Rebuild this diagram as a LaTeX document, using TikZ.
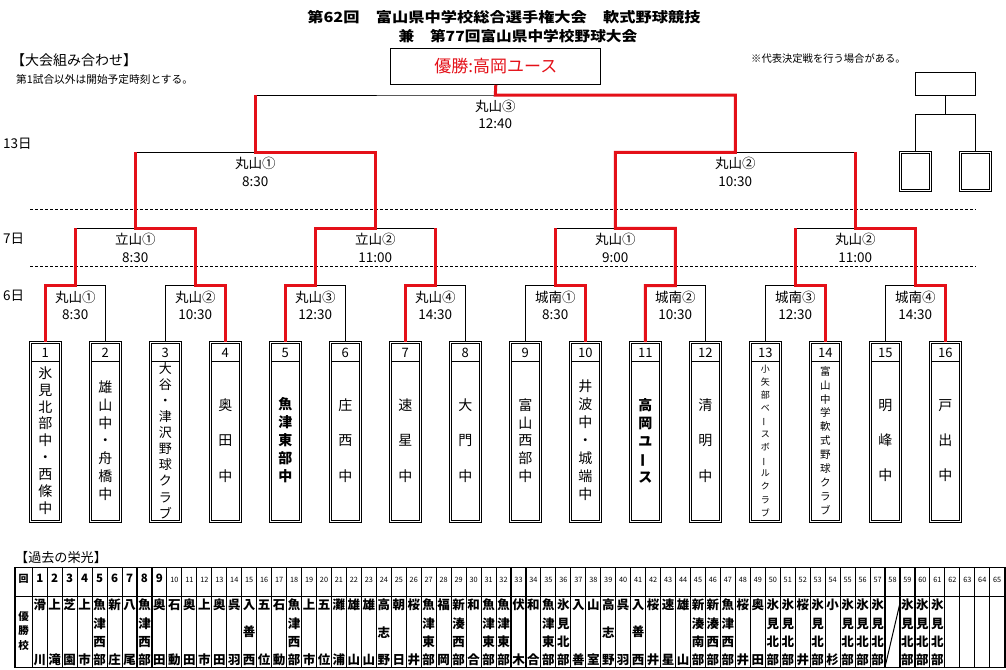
\documentclass[tikz,border=0pt]{standalone}
\usepackage{fontspec}
\setmainfont{Noto Sans CJK JP}
\usepackage{tikz}
\usetikzlibrary{positioning,calc}

\definecolor{winred}{RGB}{228,16,24}
\newcommand{\chouon}{\rotatebox[origin=c]{90}{ー}}

\tikzset{
	brk/.style={black, line width=1pt},
	winpath/.style={winred, line width=3pt, line join=miter},
	dayline/.style={black, line width=0.8pt, dash pattern=on 3pt off 2pt},
	teambox/.style={draw, double, double distance=1.3pt, line width=0.9pt,
		minimum width=30.2pt, minimum height=179.3pt, inner sep=0pt, outer sep=0pt},
	smallbox/.style={draw, double, double distance=1.3pt, line width=0.9pt,
		minimum width=30.3pt, minimum height=38.3pt, inner sep=0pt, outer sep=0pt},
	numtxt/.style={inner sep=0pt, font=\fontsize{13}{13}\selectfont},
	nametxt/.style={inner sep=0pt, align=center},
	mlabel/.style={inner sep=0pt, align=center, anchor=north, font=\fontsize{13.5}{17.3}\selectfont},
	tbl/.style={black, line width=1.1pt},
	cellname/.style={inner sep=0pt, align=center}
}

\begin{document}
\begin{tikzpicture}[
	x=1pt,y=-1pt,
	line cap=butt,line join=miter,
	font=\fontsize{13.5}{16}\selectfont
	]
	%----- parameters
	\def\boxY{431.85}
	\def\yA{285.7}
	\def\yB{228.3}
	\def\yC{152.3}
	\def\yD{95}
	\def\cX{32.3}
	\def\cW{14.96}
	
	\path[use as bounding box, fill=white] (0,0) rectangle (1006,669);
	
	%----- title and notes
	\node[font=\fontsize{14}{14}\selectfont\bfseries] (ttlA) at (504,16.7)
	{\scalebox{1.16}[1]{第62回　富山県中学校総合選手権大会　軟式野球競技}};
	\node[font=\fontsize{14}{14}\selectfont\bfseries] (ttlB) at (518,36.2)
	{\scalebox{1.12}[1]{兼　第77回富山県中学校野球大会}};
	\node[anchor=west, inner sep=0pt, font=\fontsize{14}{14}\selectfont] (hdA) at (11,60) {【大会組み合わせ】};
	\node[anchor=west, inner sep=0pt, font=\fontsize{10.7}{10.7}\selectfont] (hdB) at (16,79) {第1試合以外は開始予定時刻とする。};
	\node[anchor=west, inner sep=0pt, font=\fontsize{10.3}{10.3}\selectfont] (hdC) at (751,59) {※代表決定戦を行う場合がある。};
	
	%----- champion
	\node[draw, brk, minimum width=210pt, minimum height=36pt, inner sep=0pt,
	text=winred, font=\fontsize{17}{17}\selectfont] (champ) at (495.8,66.3) {優勝:高岡ユース};
	
	%----- days
	\node[anchor=west, inner sep=0pt] (dA) at (3,144) {13日};
	\node[anchor=west, inner sep=0pt] (dB) at (3,239) {7日};
	\node[anchor=west, inner sep=0pt] (dC) at (3,296) {6日};
	\draw[dayline] (30,209) -- (976,209);
	\draw[dayline] (30,266) -- (976,266);
	
	%----- team boxes
	\foreach \i/\fs/\bs/\wt/\nm in {
		1/14/16.9/\mdseries/氷\\見\\北\\部\\中\\・\\西\\條\\中,
		2/14/17.8/\mdseries/雄\\山\\中\\・\\舟\\橋\\中,
		3/13/16.1/\mdseries/大\\谷\\・\\津\\沢\\野\\球\\ク\\ラ\\ブ,
		4/14/35.3/\mdseries/奥\\田\\中,
		5/14/18/\bfseries/魚\\津\\東\\部\\中,
		6/14/35.3/\mdseries/庄\\西\\中,
		7/14/35.3/\mdseries/速\\星\\中,
		8/14/35.3/\mdseries/大\\門\\中,
		9/14/17.7/\mdseries/富\\山\\西\\部\\中,
		10/14/18/\mdseries/井\\波\\中\\・\\城\\端\\中,
		11/14/18/\bfseries/高\\岡\\ユ\\\chouon\\ス,
		12/14/35.3/\mdseries/清\\明\\中,
		13/9/13.1/\mdseries/小\\矢\\部\\ベ\\\chouon\\ス\\ボ\\\chouon\\ル\\ク\\ラ\\ブ,
		14/10.5/13.9/\mdseries/富\\山\\中\\学\\軟\\式\\野\\球\\ク\\ラ\\ブ,
		15/14/35.3/\mdseries/明\\峰\\中,
		16/14/35.3/\mdseries/戸\\出\\中}{
		\node[teambox] (t\i) at ({45.3+60*(\i-1)},\boxY) {};
		\draw[brk] ($(t\i.north west)+(1.15,19.5)$) -- ($(t\i.north east)+(-1.15,19.5)$);
		\node[numtxt] (n\i) at ($(t\i.north)+(0,10.3)$) {\i};
		\node[nametxt, font=\fontsize{\fs}{\bs}\selectfont\wt] (nm\i) at ($(t\i.north)+(0,98.3)$) {\nm};
	}
	
	%----- match points
	\foreach \j in {1,...,8}{
		\coordinate (r1-\j) at ({75.3+120*(\j-1)},\yA);
	}
	\foreach \j in {1,...,4}{
		\coordinate (r2-\j) at ({135.3+240*(\j-1)},\yB);
	}
	\coordinate (r3-1) at (255.3,\yC);
	\coordinate (r3-2) at (735.3,\yC);
	\coordinate (fin) at (495.3,\yD);
	
	%----- bracket lines
	\foreach \j in {1,...,8}{
		\pgfmathtruncatemacro\lt{2*\j-1}
		\pgfmathtruncatemacro\rt{2*\j}
		\draw[brk] (t\lt.north) |- (r1-\j) -| (t\rt.north);
	}
	\foreach \j in {1,...,4}{
		\pgfmathtruncatemacro\lt{2*\j-1}
		\pgfmathtruncatemacro\rt{2*\j}
		\draw[brk] (r1-\lt) |- (r2-\j) -| (r1-\rt);
	}
	\draw[brk] (r2-1) |- (r3-1) -| (r2-2);
	\draw[brk] (r2-3) |- (r3-2) -| (r2-4);
	\draw[brk] (r3-1) |- (fin) -| (r3-2);
	
	%----- winners
	\draw[winpath] (t1.north) |- (r1-1) -- (r1-1 |- r2-1);
	\draw[winpath] (t4.north) |- (r1-2) |- (r2-1) -- (r2-1 |- r3-1);
	\draw[winpath] (t5.north) |- (r1-3) |- (r2-2) |- (r3-1) -- (r3-1 |- fin);
	\draw[winpath] (t7.north) |- (r1-4) -- (r1-4 |- r2-2);
	\draw[winpath] (t10.north) |- (r1-5) -- (r1-5 |- r2-3);
	\draw[winpath] (t11.north) |- (r1-6) |- (r2-3) |- (r3-2) |- (fin) -- (champ.south);
	\draw[winpath] (t14.north) |- (r1-7) -- (r1-7 |- r2-4);
	\draw[winpath] (t16.north) |- (r1-8) |- (r2-4) -- (r2-4 |- r3-2);
	
	%----- match labels
	\foreach \j/\pl/\tm in {1/丸山①/8:30, 2/丸山②/10:30, 3/丸山③/12:30, 4/丸山④/14:30,
		5/城南①/8:30, 6/城南②/10:30, 7/城南③/12:30, 8/城南④/14:30}{
		\node[mlabel, below=5pt of r1-\j] (la-\j) {\pl\\\tm};
	}
	\foreach \j/\pl/\tm in {1/立山①/8:30, 2/立山②/11:00, 3/丸山①/9:00, 4/丸山②/11:00}{
		\node[mlabel, below=5pt of r2-\j] (lb-\j) {\pl\\\tm};
	}
	\node[mlabel, below=5pt of r3-1] (lc-1) {丸山①\\8:30};
	\node[mlabel, below=5pt of r3-2] (lc-2) {丸山②\\10:30};
	\node[mlabel, below=5pt of fin] (ld) {丸山③\\12:40};
	
	%----- extra bracket (top right)
	\node[draw, brk, minimum width=60pt, minimum height=23pt, inner sep=0pt] (pb) at (945,83.5) {};
	\node[smallbox] (pb1) at (915.3,171.3) {};
	\node[smallbox] (pb2) at (975.3,171.3) {};
	\draw[brk] (pb.south) -- ++(0,19) coordinate (pbj);
	\draw[brk] (pb1.north) |- (pbj) -| (pb2.north);
	
	%----- past winners table
	\node[anchor=west, inner sep=0pt, font=\fontsize{13.1}{13.1}\selectfont] (hdD) at (15,558) {【過去の栄光】};
	\draw[tbl] (15,567.3) rectangle (1005,667.7);
	\draw[tbl] (15,596.7) -- (1005,596.7);
	\foreach \k in {0,...,64}{
		\draw[tbl] ({\cX+\k*\cW},567.3) -- ({\cX+\k*\cW},667.7);
	}
	\node[inner sep=0pt, font=\fontsize{10}{10}\selectfont\bfseries] (hk) at (23.6,578.5) {回};
	\node[cellname, font=\fontsize{10.5}{14.3}\selectfont\bfseries] (hw) at (23.6,631) {優\\勝\\校};
	\foreach \k in {1,...,9}{
		\node[inner sep=0pt, font=\fontsize{11.5}{11.5}\selectfont\bfseries] (h\k) at ({\cX+(\k-0.5)*\cW},578.5) {\k};
	}
	\foreach \k in {10,...,65}{
		\node[inner sep=0pt, font=\fontsize{7.3}{7.3}\selectfont] (h\k) at ({\cX+(\k-0.5)*\cW},580) {\k};
	}
	\foreach \k/\bs/\nm in {
		1/55/滑\\川, 2/55/上\\滝, 3/55/芝\\園, 4/55/上\\市, 5/18.3/魚\\津\\西\\部,
		6/55/新\\庄, 7/55/八\\尾, 8/18.3/魚\\津\\西\\部, 9/55/奥\\田, 10/55/石\\動,
		11/55/奥\\田, 12/55/上\\市, 13/55/奥\\田, 14/55/呉\\羽, 15/27.5/入\\善\\西,
		16/55/五\\位, 17/55/石\\動, 18/18.3/魚\\津\\西\\部, 19/55/上\\市, 20/55/五\\位,
		21/55/灘\\浦, 22/55/雄\\山, 23/55/雄\\山, 24/27.5/高\\志\\野, 25/55/朝\\日,
		26/55/桜\\井, 27/18.3/魚\\津\\東\\部, 28/55/福\\岡, 29/18.3/新\\湊\\西\\部, 30/55/和\\合,
		31/18.3/魚\\津\\東\\部, 32/18.3/魚\\津\\東\\部, 33/55/伏\\木, 34/55/和\\合, 35/18.3/魚\\津\\東\\部,
		36/18.3/氷\\見\\北\\部, 37/55/入\\善, 38/55/山\\室, 39/27.5/高\\志\\野, 40/55/呉\\羽,
		41/27.5/入\\善\\西, 42/55/桜\\井, 43/55/速\\星, 44/55/雄\\山, 45/18.3/新\\湊\\南\\部,
		46/18.3/新\\湊\\西\\部, 47/18.3/魚\\津\\西\\部, 48/55/桜\\井, 49/55/奥\\田, 50/18.3/氷\\見\\北\\部,
		51/18.3/氷\\見\\北\\部, 52/55/桜\\井, 53/18.3/氷\\見\\北\\部, 54/55/小\\杉, 55/18.3/氷\\見\\北\\部,
		56/18.3/氷\\見\\北\\部, 57/18.3/氷\\見\\北\\部, 59/18.3/氷\\見\\北\\部, 60/18.3/氷\\見\\北\\部,
		61/18.3/氷\\見\\北\\部}{
		\node[cellname, font=\fontsize{12.5}{\bs}\selectfont\bfseries] (w\k) at ({\cX+(\k-0.5)*\cW},632.5) {\nm};
	}
	% no tournament
	\draw[brk] ({\cX+57*\cW},667) -- ({\cX+58*\cW},603);
	
\end{tikzpicture}
\end{document}
